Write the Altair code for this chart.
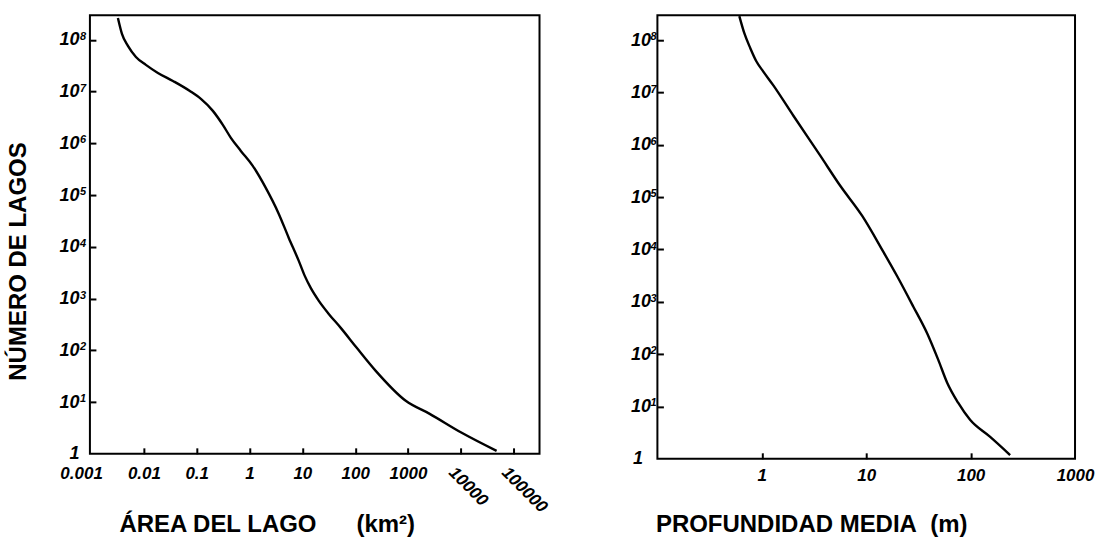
import altair as alt
import pandas as pd

# ---- data ----
area_km2 = [0.00322, 0.00384, 0.00498, 0.00706, 0.0109, 0.0184, 0.0354, 0.0741, 0.120,
            0.202, 0.312, 0.443, 0.684, 1.15, 2.03, 3.58, 5.53, 8.55, 11.1, 14.4, 20.5,
            31.6, 53.3, 107, 245, 906, 2576, 10400, 47600]
area_lakes = [2.66e8, 1.31e8, 7.66e7, 4.69e7, 3.29e7, 2.30e7, 1.61e7, 1.03e7, 7.24e6,
              4.25e6, 2.28e6, 1.28e6, 7.16e5, 3.67e5, 1.38e5, 4.34e4, 1.49e4, 5360, 2750,
              1610, 905, 507, 272, 112, 40.2, 10.6, 5.93, 2.55, 1.14]

depth_m = [0.609, 0.680, 0.776, 0.886, 1.03, 1.29, 2.00, 3.63, 5.64, 9.16, 14.6, 19.8,
           28.2, 38.4, 48.9, 59.6, 75.9, 98.8, 154, 239]
depth_lakes = [2.89e8, 1.36e8, 7.03e7, 3.96e7, 2.54e7, 1.37e7, 3.64e6, 6.21e5, 1.65e5,
               4.38e4, 9.0e3, 3.08e3, 817, 248, 78.5, 28.5, 11.8, 5.56, 2.62, 1.18]

y_ticks = [1, 10, 100, 1e3, 1e4, 1e5, 1e6, 1e7, 1e8]
exp_ticks = [10, 100, 1e3, 1e4, 1e5, 1e6, 1e7, 1e8]
exp_labels = ["1", "2", "3", "4", "5", "6", "7", "8"]
area_ticks = [0.001, 0.01, 0.1, 1, 10, 100, 1000, 10000, 100000]
area_rot_ticks = [10000, 100000]
area_rot_labels = ["10000", "100000"]
depth_ticks = [1, 10, 100, 1000]

y_title = "NÚMERO DE LAGOS"
x_title_left = "ÁREA DEL LAGO\u00a0\u00a0\u00a0\u00a0\u00a0\u00a0(km²)"
x_title_right = "PROFUNDIDAD MEDIA\u00a0\u00a0(m)"

FONT = "Liberation Sans"
y_label_expr = "datum.value < 2 ? '1' : '10'"

LEFT_W, LEFT_H = 450, 439
RIGHT_W, RIGHT_H = 418, 444

label_style = dict(labelFont=FONT, labelFontStyle="italic", labelFontWeight="bold",
                   labelColor="black")
title_style = dict(titleFont=FONT, titleFontSize=24, titleFontWeight="bold",
                   titleColor="black")
tick_style = dict(domain=False, grid=False, offset=-6, tickSize=6, tickWidth=2,
                  tickColor="black", labelOverlap=False, labelFlush=False)
text_style = dict(font=FONT, fontStyle="italic", fontWeight="bold", color="black")

y_scale = alt.Scale(type="log", domain=[1, 3.0e8], nice=False)
exp_df = pd.DataFrame({"lakes": exp_ticks, "exp": exp_labels})

# ---- left panel ----
left_df = pd.DataFrame({"area": area_km2, "lakes": area_lakes})
x_scale_left = alt.Scale(type="log", domain=[0.00095, 309000], nice=False)

left_line = alt.Chart(left_df).mark_line(
    color="black", strokeWidth=2.4, interpolate="monotone"
).encode(
    x=alt.X("area:Q", scale=x_scale_left, axis=alt.Axis(
        values=area_ticks, format="~g",
        labelExpr="datum.value >= 5000 ? '' : datum.label",
        labelFontSize=17, labelPadding=12,
        labelOffset={"condition": {"test": "datum.value < 0.002", "value": -10}, "value": 0},
        tickOpacity={"condition": {"test": "datum.value < 0.002", "value": 0}, "value": 1},
        title=x_title_left, titleAnchor="start", titleAlign="left",
        titleBaseline="alphabetic", titleX=29, titleY=84,
        **tick_style, **label_style, **title_style)),
    y=alt.Y("lakes:Q", scale=y_scale, axis=alt.Axis(
        values=y_ticks, labelExpr=y_label_expr, labelFontSize=18, labelPadding=11,
        tickOpacity={"condition": {"test": "datum.value < 2", "value": 0}, "value": 1},
        title=y_title, titleAngle=270, titleAlign="center", titleBaseline="middle",
        titleX=-77, titleY=246,
        **tick_style, **label_style, **title_style)),
)

rot_df = pd.DataFrame({"area": area_rot_ticks, "label": area_rot_labels})
left_rot = alt.Chart(rot_df).mark_text(
    align="left", baseline="top", angle=45, dx=-5, fontSize=17, **text_style
).encode(
    x=alt.X("area:Q", scale=x_scale_left),
    y=alt.value(LEFT_H + 14),
    text="label:N",
)

left_exp = alt.Chart(exp_df).mark_text(
    align="left", baseline="top", dy=-9, fontSize=11, **text_style
).encode(
    x=alt.value(-10),
    y=alt.Y("lakes:Q", scale=y_scale),
    text="exp:N",
)

left = alt.layer(left_line, left_rot, left_exp).properties(width=LEFT_W, height=LEFT_H)

# ---- right panel ----
right_df = pd.DataFrame({"depth": depth_m, "lakes": depth_lakes})
x_scale_right = alt.Scale(type="log", domain=[0.1, 1000], nice=False)

right_line = alt.Chart(right_df).mark_line(
    color="black", strokeWidth=2.4, interpolate="monotone"
).encode(
    x=alt.X("depth:Q", scale=x_scale_right, axis=alt.Axis(
        values=depth_ticks, format="~g", labelFontSize=17, labelPadding=9,
        tickOpacity={"condition": {"test": "datum.value > 500", "value": 0}, "value": 1},
        title=x_title_right, titleAnchor="start", titleAlign="left",
        titleBaseline="alphabetic", titleX=-2, titleY=79,
        **tick_style, **label_style, **title_style)),
    y=alt.Y("lakes:Q", scale=y_scale, axis=alt.Axis(
        values=y_ticks, labelExpr=y_label_expr, labelFontSize=18,
        labelPadding={"condition": {"test": "datum.value < 2", "value": 15}, "value": 7},
        tickOpacity={"condition": {"test": "datum.value < 2", "value": 0}, "value": 1},
        title=None,
        **tick_style, **label_style)),
)

right_exp = alt.Chart(exp_df).mark_text(
    align="left", baseline="top", dy=-9, fontSize=11, **text_style
).encode(
    x=alt.value(-7),
    y=alt.Y("lakes:Q", scale=y_scale),
    text="exp:N",
)

right = alt.layer(right_line, right_exp).properties(width=RIGHT_W, height=RIGHT_H)

chart = alt.hconcat(left, right, spacing=118, bounds="flush").properties(
    padding={"left": 6, "top": 10, "right": 5, "bottom": 0},
).configure(
    background="white"
).configure_view(
    stroke="black", strokeWidth=2
)

chart.save("out.html", embed_options={"renderer": "svg", "actions": False})
